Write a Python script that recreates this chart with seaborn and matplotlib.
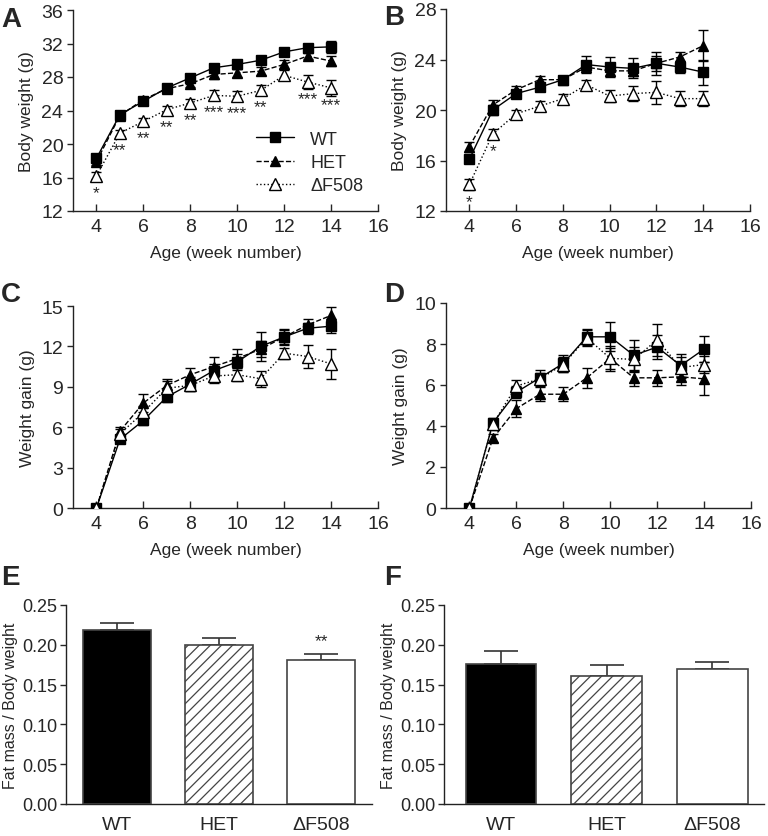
import numpy as np
import pandas as pd
import matplotlib
matplotlib.use("Agg")
import matplotlib.pyplot as plt
from matplotlib.lines import Line2D
import seaborn as sns

# ---------------- data ----------------
weeks = [4, 5, 6, 7, 8, 9, 10, 11, 12, 13, 14]
groups = ["WT", "HET", "\u0394F508"]

A_wt = [18.3, 23.5, 25.1, 26.7, 27.9, 29.1, 29.5, 30.0, 31.0, 31.5, 31.6]
A_wt_err = [0.5, 0.3, 0.3, 0.3, 0.5, 0.5, 0.5, 0.5, 0.4, 0.5, 0.7]
A_het = [17.9, 23.4, 25.3, 26.6, 27.2, 28.3, 28.5, 28.7, 29.5, 30.5, 29.9]
A_het_err = [0.4, 0.3, 0.3, 0.3, 0.4, 0.5, 0.5, 0.5, 0.5, 0.4, 0.6]
A_df = [16.2, 21.3, 22.7, 24.1, 24.9, 25.8, 25.7, 26.4, 28.2, 27.4, 26.7]
A_df_err = [0.4, 0.4, 0.4, 0.4, 0.5, 0.6, 0.6, 0.6, 0.6, 0.8, 1.0]
A_stars = ["*", "**", "**", "**", "**", "***", "***", "**", "", "***", "***"]

B_wt = [16.1, 20.0, 21.3, 21.8, 22.4, 23.6, 23.4, 23.3, 23.7, 23.4, 23.0]
B_wt_err = [0.3, 0.4, 0.3, 0.3, 0.3, 0.7, 0.8, 0.8, 0.9, 0.5, 1.0]
B_het = [17.1, 20.4, 21.6, 22.4, 22.4, 23.4, 23.1, 23.1, 23.7, 24.2, 25.1]
B_het_err = [0.4, 0.4, 0.3, 0.3, 0.3, 0.4, 0.4, 0.4, 0.6, 0.4, 1.2]
B_df = [14.1, 18.1, 19.7, 20.3, 20.9, 22.0, 21.1, 21.3, 21.4, 20.9, 20.9]
B_df_err = [0.4, 0.4, 0.3, 0.4, 0.4, 0.4, 0.5, 0.6, 0.9, 0.6, 0.6]
B_stars = ["*", "*", "", "", "", "", "", "", "", "", ""]

C_wt = [0, 5.1, 6.5, 8.25, 9.2, 10.2, 10.85, 12.0, 12.7, 13.35, 13.5]
C_wt_err = [0, 0.3, 0.3, 0.4, 0.5, 0.5, 0.6, 1.1, 0.6, 0.4, 0.5]
C_het = [0, 5.7, 7.8, 9.1, 9.9, 10.5, 11.1, 11.8, 12.7, 13.6, 14.3]
C_het_err = [0, 0.3, 0.7, 0.5, 0.5, 0.7, 0.7, 0.6, 0.5, 0.4, 0.6]
C_df = [0, 5.5, 7.1, 8.9, 9.1, 9.8, 9.9, 9.6, 11.5, 11.25, 10.7]
C_df_err = [0, 0.4, 0.5, 0.5, 0.4, 0.5, 0.5, 0.6, 0.4, 0.85, 1.1]

D_wt = [0, 4.15, 5.65, 6.35, 7.05, 8.35, 8.35, 7.45, 7.85, 6.95, 7.75]
D_wt_err = [0, 0.2, 0.3, 0.4, 0.4, 0.4, 0.7, 0.75, 0.6, 0.55, 0.65]
D_het = [0, 3.4, 4.85, 5.55, 5.55, 6.35, 7.3, 6.35, 6.35, 6.4, 6.3]
D_het_err = [0, 0.2, 0.4, 0.35, 0.35, 0.5, 0.6, 0.4, 0.4, 0.4, 0.8]
D_df = [0, 4.1, 5.95, 6.3, 7.0, 8.3, 7.3, 7.25, 8.2, 6.85, 7.0]
D_df_err = [0, 0.3, 0.3, 0.3, 0.35, 0.4, 0.5, 0.6, 0.8, 0.5, 0.4]

E_vals = [0.218, 0.200, 0.181]
E_err = [0.010, 0.008, 0.008]
E_stars = ["", "", "**"]
F_vals = [0.176, 0.161, 0.169]
F_err = [0.016, 0.014, 0.010]

# ---------------- style ----------------
sns.set_theme(style="ticks")
plt.rcParams["font.family"] = ["Liberation Sans", "DejaVu Sans"]
plt.rcParams["hatch.linewidth"] = 0.9
plt.rcParams["axes.linewidth"] = 1.0
plt.rcParams["axes.edgecolor"] = "#222222"

W, H = 768, 837
fig = plt.figure(figsize=(W / 100, H / 100), dpi=100)

TICK_FS = 14
LABEL_FS = 12.5


def px_axes(left, top, right, bottom):
    return fig.add_axes([left / W, 1 - bottom / H, (right - left) / W, (bottom - top) / H])


styles = [
    dict(ls="-", marker="s", mfc="black", ms=7),
    dict(ls="--", marker="^", mfc="black", ms=7),
    dict(ls=":", marker="^", mfc="white", ms=8),
]


def line_panel(ax, series, errs, ylim, yticks, ylabel, stars=None, star_src=None):
    for i, (vals, err) in enumerate(zip(series, errs)):
        st = styles[i]
        ax.errorbar(weeks, vals, yerr=err, fmt="none", ecolor="black",
                    elinewidth=1.0, capsize=3.5, capthick=1.0, zorder=2)
        sns.lineplot(x=weeks, y=vals, ax=ax, color="black", linestyle=st["ls"],
                     marker=st["marker"], markersize=st["ms"],
                     markerfacecolor=st["mfc"], markeredgecolor="black",
                     markeredgewidth=1.0, linewidth=1.0, errorbar=None,
                     zorder=3 + i, label=groups[i])
    if stars is not None:
        for w, v, s in zip(weeks, star_src, stars):
            if s:
                ax.annotate(s, xy=(w, v), xytext=(0, -12), textcoords="offset points",
                            ha="center", va="center", fontsize=12.5)
    ax.set_xlim(3, 16)
    ax.set_xticks([4, 6, 8, 10, 12, 14, 16])
    ax.set_ylim(*ylim)
    ax.set_yticks(yticks)
    ax.set_ylabel(ylabel, fontsize=LABEL_FS, labelpad=5)
    ax.set_xlabel("Age (week number)", fontsize=LABEL_FS, labelpad=7)
    ax.tick_params(axis="y", direction="out", length=4, width=1, labelsize=TICK_FS, pad=3)
    ax.tick_params(axis="x", direction="in", length=5, width=1, labelsize=TICK_FS, pad=5)
    sns.despine(ax=ax)
    if ax.get_legend() is not None:
        ax.get_legend().remove()


axA = px_axes(73, 11, 378, 212)
line_panel(axA, [A_wt, A_het, A_df], [A_wt_err, A_het_err, A_df_err],
           (12, 36), [12, 16, 20, 24, 28, 32, 36], "Body weight (g)", A_stars, A_df)
handles = [Line2D([], [], color="black", linestyle=s["ls"], marker=s["marker"],
                  markersize=s["ms"], markerfacecolor=s["mfc"], markeredgecolor="black",
                  linewidth=1.0) for s in styles]
axA.legend(handles, groups, loc="upper left", bbox_to_anchor=(0.6, 0.40),
           frameon=False, fontsize=13, handlelength=2.1, handletextpad=0.9,
           labelspacing=0.35, borderpad=0, borderaxespad=0)

axB = px_axes(446, 10, 750, 212)
line_panel(axB, [B_wt, B_het, B_df], [B_wt_err, B_het_err, B_df_err],
           (12, 28), [12, 16, 20, 24, 28], "Body weight (g)", B_stars, B_df)

axC = px_axes(73, 307, 378, 509)
line_panel(axC, [C_wt, C_het, C_df], [C_wt_err, C_het_err, C_df_err],
           (0, 15), [0, 3, 6, 9, 12, 15], "Weight gain (g)")

axD = px_axes(446, 304, 751, 509)
line_panel(axD, [D_wt, D_het, D_df], [D_wt_err, D_het_err, D_df_err],
           (0, 10), [0, 2, 4, 6, 8, 10], "Weight gain (g)")


def bar_panel(ax, vals, errs, xlim, stars=None):
    df = pd.DataFrame({"group": groups, "value": vals})
    sns.barplot(data=df, x="group", y="value", hue="group",
                palette=["black", "white", "white"], width=0.67,
                edgecolor="#444444", linewidth=1.2, errorbar=None,
                legend=False, ax=ax, zorder=3)
    ax.patches[1].set_hatch("///")
    pos = np.arange(len(vals))
    ax.errorbar(pos, vals, yerr=[np.zeros(len(vals)), errs], fmt="none",
                ecolor="#333333", elinewidth=1.2, capsize=12, capthick=1.2, zorder=2)
    if stars is not None:
        for p, v, e, s in zip(pos, vals, errs, stars):
            if s:
                ax.annotate(s, xy=(p, v + e), xytext=(0, 4), textcoords="offset points",
                            ha="center", va="bottom", fontsize=12.5)
    ax.set_xlim(*xlim)
    ax.set_ylim(0, 0.25)
    ax.set_yticks([0, 0.05, 0.10, 0.15, 0.20, 0.25])
    ax.set_yticklabels(["0.00", "0.05", "0.10", "0.15", "0.20", "0.25"])
    ax.set_xlabel("")
    ax.set_ylabel("Fat mass / Body weight", fontsize=11.5, labelpad=3)
    ax.tick_params(axis="y", direction="out", length=4, width=1, labelsize=13, pad=2)
    ax.tick_params(axis="x", length=0, labelsize=TICK_FS, pad=9)
    sns.despine(ax=ax)


axE = px_axes(66, 606, 372, 805)
bar_panel(axE, E_vals, E_err, (-0.5, 2.5), E_stars)

axF = px_axes(444, 606, 764, 805)
bar_panel(axF, F_vals, F_err, (-0.54, 2.49))

# panel letters
for lbl, x, y in [("A", 1, 7), ("B", 384, 5), ("C", 1, 282), ("D", 384, 282),
                  ("E", 1, 565), ("F", 384, 565)]:
    fig.text(x / W, 1 - y / H, lbl, fontsize=20, fontweight="bold", va="top", ha="left")

fig.savefig("out.png", dpi=100)
